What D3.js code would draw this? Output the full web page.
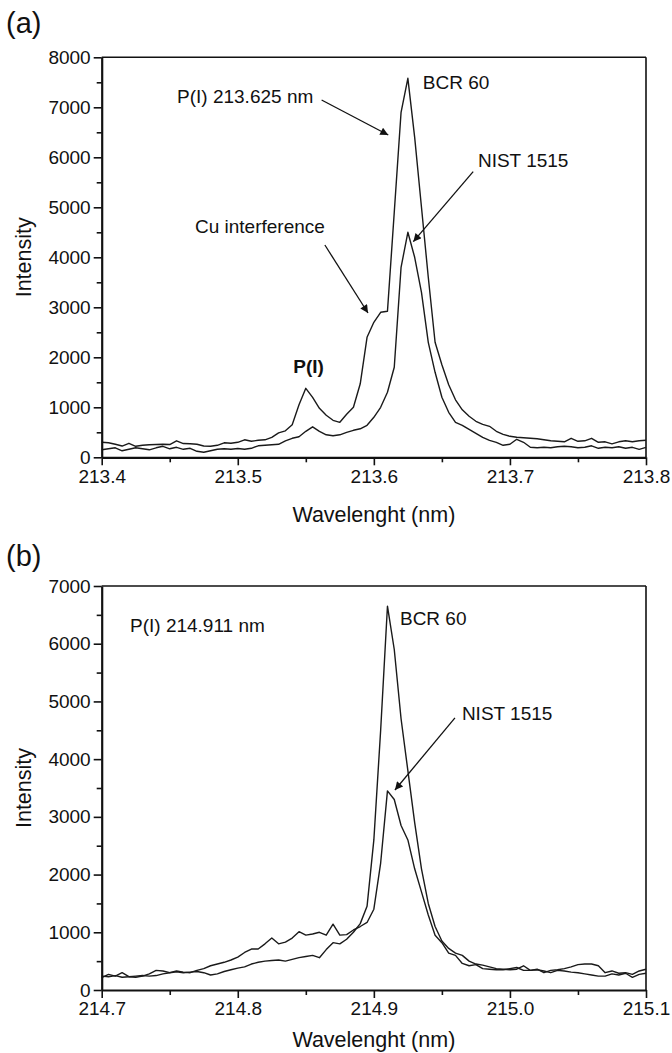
<!DOCTYPE html>
<html><head><meta charset="utf-8">
<script src="https://cdn.jsdelivr.net/npm/d3@7"></script>
<style>
body{margin:0;background:#fff}
svg{display:block}
text{font-family:"Liberation Sans",Arial,Helvetica,sans-serif;fill:#111}
</style>
</head><body>
<svg id="c" width="672" height="1053"></svg>
<script>
// ---------- Panel (a) data ----------
const wavelengthA = [213.4,213.405,213.41,213.415,213.42,213.425,213.43,213.435,213.44,213.445,213.45,213.455,213.46,213.465,213.47,213.475,213.48,213.485,213.49,213.495,213.5,213.505,213.51,213.515,213.52,213.525,213.53,213.535,213.54,213.545,213.55,213.555,213.56,213.565,213.57,213.575,213.58,213.585,213.59,213.595,213.6,213.605,213.61,213.615,213.62,213.625,213.63,213.635,213.64,213.645,213.65,213.655,213.66,213.665,213.67,213.675,213.68,213.685,213.69,213.695,213.7,213.705,213.71,213.715,213.72,213.725,213.73,213.735,213.74,213.745,213.75,213.755,213.76,213.765,213.77,213.775,213.78,213.785,213.79,213.795,213.8];
const bcrA = [300,290,260,225,280,220,240,250,255,260,255,330,275,270,260,225,220,240,290,280,300,350,320,340,
  350,400,490,530,650,1050,1380,1200,980,840,740,700,860,1000,1470,2400,2700,2900,2920,4900,6900,7580,
  6400,5000,3600,2300,1850,1450,1150,950,820,720,660,620,520,460,420,400,390,380,370,350,330,320,310,380,320,330,380,300,310,270,310,330,310,330,340];
const nistA = [150,170,190,130,160,190,170,150,190,220,170,200,160,180,120,100,130,160,170,160,175,160,180,230,
  240,250,260,330,380,410,520,610,520,450,430,450,500,540,570,640,800,1000,1300,1800,3800,4500,
  4000,3300,2300,1700,1200,900,700,640,560,480,400,340,300,240,260,360,300,200,190,200,190,210,220,210,190,200,230,180,200,190,210,180,200,160,200];
const xTicksA = [213.4,213.5,213.6,213.7,213.8];
const xMinorA = [213.45,213.55,213.65,213.75];
const yTicksA = [0,1000,2000,3000,4000,5000,6000,7000,8000];
const yMinorA = [500,1500,2500,3500,4500,5500,6500,7500];

// ---------- Panel (b) data ----------
const wavelengthB = [214.7,214.705,214.71,214.715,214.72,214.725,214.73,214.735,214.74,214.745,214.75,214.755,214.76,214.765,214.77,214.775,214.78,214.785,214.79,214.795,214.8,214.805,214.81,214.815,214.82,214.825,214.83,214.835,214.84,214.845,214.85,214.855,214.86,214.865,214.87,214.875,214.88,214.885,214.89,214.895,214.9,214.905,214.91,214.915,214.92,214.925,214.93,214.935,214.94,214.945,214.95,214.955,214.96,214.965,214.97,214.975,214.98,214.985,214.99,214.995,215.0,215.005,215.01,215.015,215.02,215.025,215.03,215.035,215.04,215.045,215.05,215.055,215.06,215.065,215.07,215.075,215.08,215.085,215.09,215.095,215.1];
const bcrB = [240,230,250,220,230,240,250,240,250,280,300,315,300,310,320,300,260,280,320,350,380,
  400,450,480,500,510,520,500,530,560,580,600,560,700,820,800,880,1000,1150,1450,2600,4500,6650,
  5900,4700,3800,2900,2100,1500,1100,850,720,640,600,500,450,430,400,370,360,350,360,420,340,360,300,340,350,370,400,440,450,450,420,300,330,290,300,270,330,360];
const nistB = [215,270,240,300,230,220,240,280,340,330,300,330,310,300,340,370,420,450,480,520,570,
  650,710,710,800,900,800,830,900,1010,950,970,1000,950,1140,950,960,1040,1100,1170,1400,2200,3450,
  3300,2850,2600,2100,1700,1300,950,820,640,600,460,420,440,370,360,350,350,370,390,340,340,350,330,300,340,330,310,300,280,260,240,240,280,260,290,220,270,290];
const xTicksB = [214.7,214.8,214.9,215.0,215.1];
const xMinorB = [214.75,214.85,214.95,215.05];
const yTicksB = [0,1000,2000,3000,4000,5000,6000,7000];
const yMinorB = [500,1500,2500,3500,4500,5500,6500];

// annotations, positioned in data units
const labelsA = [
  {t:"P(I) 213.625 nm", x:213.5555, y:7086, anchor:"end", bold:false},
  {t:"BCR 60", x:213.636, y:7366, anchor:"start", bold:false},
  {t:"NIST 1515", x:213.6765, y:5806, anchor:"start", bold:false},
  {t:"Cu interference", x:213.564, y:4486, anchor:"end", bold:false},
  {t:"P(I)", x:213.552, y:1686, anchor:"middle", bold:true}
];
const arrowsA = [
  {x1:213.5616, y1:7146, x2:213.6106, y2:6446},
  {x1:213.673, y1:5712, x2:213.629, y2:4312},
  {x1:213.564, y1:4246, x2:213.5957, y2:2886}
];
const labelsB = [
  {t:"P(I) 214.911 nm", x:214.7208, y:6205, anchor:"start", bold:false},
  {t:"BCR 60", x:214.9192, y:6326, anchor:"start", bold:false},
  {t:"NIST 1515", x:214.9647, y:4679, anchor:"start", bold:false}
];
const arrowsB = [
  {x1:214.9596, y1:4714, x2:214.9155, y2:3466}
];

const svg = d3.select("#c");
svg.append("defs").append("marker")
  .attr("id","ah").attr("viewBox","0 0 10 10").attr("refX",10).attr("refY",5)
  .attr("markerWidth",11).attr("markerHeight",8).attr("markerUnits","userSpaceOnUse")
  .attr("orient","auto")
  .append("path").attr("d","M0,0 L10,5 L0,10 z").attr("fill","#111");

function panel(cfg){
  const x = d3.scaleLinear().domain(cfg.xd).range([101.7,646]);
  const y = d3.scaleLinear().domain(cfg.yd).range([cfg.y0, cfg.y1]);
  const g = svg.append("g");

  // frame top + right
  g.append("line").attr("x1",x.range()[0]).attr("x2",x.range()[1]).attr("y1",cfg.y1).attr("y2",cfg.y1)
    .attr("stroke","#111").attr("stroke-width",1.6);
  g.append("line").attr("x1",x.range()[1]).attr("x2",x.range()[1]).attr("y1",cfg.y1).attr("y2",cfg.y0)
    .attr("stroke","#111").attr("stroke-width",1.6);

  // series
  const line = d3.line().x((d,i)=>x(cfg.wl[i])).y(d=>y(d));
  cfg.series.forEach(s=>{
    g.append("path").datum(s).attr("d",line).attr("fill","none")
      .attr("stroke","#1a1a1a").attr("stroke-width",1.4).attr("stroke-linejoin","round");
  });

  // axes
  const ax = g.append("g").attr("transform",`translate(0,${cfg.y0})`)
    .call(d3.axisBottom(x).tickValues(cfg.xt).tickSize(8).tickSizeOuter(0).tickPadding(4).tickFormat(d3.format(".1f")));
  const axm = g.append("g").attr("transform",`translate(0,${cfg.y0})`)
    .call(d3.axisBottom(x).tickValues(cfg.xm).tickSize(5).tickSizeOuter(0).tickFormat(""));
  axm.select(".domain").remove();
  const ay = g.append("g").attr("transform",`translate(${x.range()[0]},0)`)
    .call(d3.axisLeft(y).tickValues(cfg.yt).tickSize(8).tickSizeOuter(0).tickPadding(3).tickFormat(d3.format("d")));
  const aym = g.append("g").attr("transform",`translate(${x.range()[0]},0)`)
    .call(d3.axisLeft(y).tickValues(cfg.ym).tickSize(5).tickSizeOuter(0).tickFormat(""));
  aym.select(".domain").remove();
  [ax,axm,ay,aym].forEach(a=>{
    a.selectAll("line").attr("stroke","#111").attr("stroke-width",1.6);
    a.selectAll(".domain").attr("stroke","#111").attr("stroke-width",2.2);
    a.selectAll("text").attr("font-size",19).attr("fill","#111")
      .attr("font-family","'Liberation Sans',Arial,sans-serif");
  });

  // axis titles
  g.append("text").attr("x",(x.range()[0]+x.range()[1])/2).attr("y",cfg.y0+cfg.titleDy)
    .attr("text-anchor","middle").attr("font-size",21.5).text("Wavelenght (nm)");
  g.append("text").attr("transform",`translate(31,${(cfg.y0+cfg.y1)/2}) rotate(-90)`)
    .attr("text-anchor","middle").attr("font-size",21.5).text("Intensity");
  // panel letter
  g.append("text").attr("x",6).attr("y",cfg.letterY).attr("font-size",29).text(cfg.letter);

  // annotations
  cfg.labels.forEach(l=>{
    g.append("text").attr("x",x(l.x)).attr("y",y(l.y)).attr("text-anchor",l.anchor)
      .attr("font-size",19).attr("font-weight",l.bold?"bold":"normal").text(l.t);
  });
  cfg.arrows.forEach(a=>{
    g.append("line").attr("x1",x(a.x1)).attr("y1",y(a.y1)).attr("x2",x(a.x2)).attr("y2",y(a.y2))
      .attr("stroke","#111").attr("stroke-width",1.3).attr("marker-end","url(#ah)");
  });
}

panel({xd:[213.4,213.8], yd:[0,8000], y0:457.3, y1:57.3, wl:wavelengthA, series:[nistA,bcrA],
  xt:xTicksA, xm:xMinorA, yt:yTicksA, ym:yMinorA, titleDy:65, letter:"(a)", letterY:33,
  labels:labelsA, arrows:arrowsA});
panel({xd:[214.7,215.1], yd:[0,7000], y0:990, y1:586, wl:wavelengthB, series:[nistB,bcrB],
  xt:xTicksB, xm:xMinorB, yt:yTicksB, ym:yMinorB, titleDy:57, letter:"(b)", letterY:566,
  labels:labelsB, arrows:arrowsB});
</script>
</body></html>
